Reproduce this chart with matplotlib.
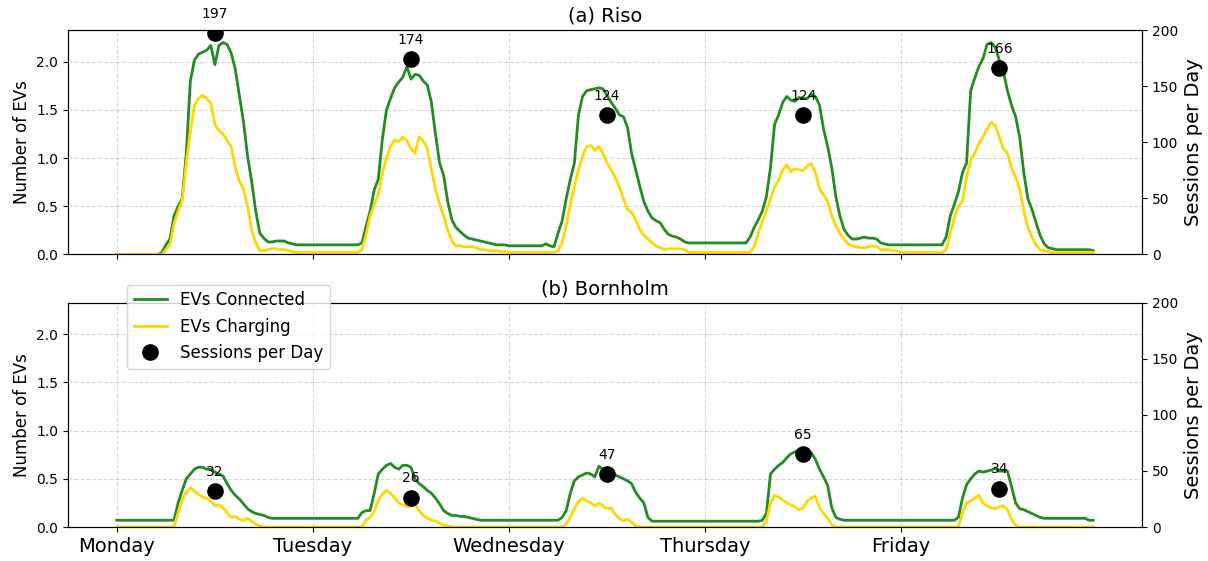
import matplotlib
matplotlib.use("Agg")
import matplotlib.pyplot as plt
import numpy as np
from matplotlib.lines import Line2D
from matplotlib.ticker import MultipleLocator

days = ["Monday", "Tuesday", "Wednesday", "Thursday", "Friday"]

# half-hourly values, one list per day (00:00 .. 23:30)
riso_connected = [
    [0.0] * 11 + [0.02, 0.10, 0.16, 0.40, 0.50, 0.58, 1.05, 1.80, 2.02, 2.08, 2.10, 2.12, 2.17, 1.97, 2.17,
                  2.20, 2.18, 2.09, 1.92, 1.65, 1.38, 1.02, 0.76, 0.45, 0.22, 0.17, 0.13, 0.13, 0.14, 0.14,
                  0.14, 0.12, 0.11, 0.10, 0.10, 0.10, 0.10],
    [0.10] * 12 + [0.12, 0.29, 0.45, 0.67, 0.78, 1.20, 1.50, 1.62, 1.73, 1.79, 1.84, 1.95, 1.82, 1.87, 1.86,
                   1.80, 1.76, 1.58, 1.25, 0.95, 0.82, 0.55, 0.36, 0.28, 0.24, 0.20, 0.17, 0.16, 0.15, 0.14,
                   0.13, 0.12, 0.11, 0.10, 0.10, 0.10],
    [0.09] * 9 + [0.11, 0.09, 0.08, 0.22, 0.35, 0.58, 0.78, 0.95, 1.45, 1.64, 1.70, 1.71, 1.72, 1.73, 1.72,
                  1.65, 1.58, 1.52, 1.45, 1.43, 1.32, 1.05, 0.88, 0.71, 0.55, 0.45, 0.38, 0.35, 0.33, 0.26,
                  0.21, 0.19, 0.18, 0.16, 0.13, 0.12, 0.12, 0.12, 0.12],
    [0.12] * 11 + [0.18, 0.28, 0.36, 0.45, 0.60, 0.90, 1.35, 1.45, 1.58, 1.64, 1.60, 1.59, 1.63, 1.62, 1.62,
                   1.66, 1.64, 1.55, 1.30, 1.12, 0.90, 0.60, 0.40, 0.26, 0.20, 0.16, 0.16, 0.17, 0.18, 0.17,
                   0.17, 0.16, 0.12, 0.11, 0.10, 0.10, 0.10],
    [0.10] * 11 + [0.18, 0.40, 0.52, 0.65, 0.85, 0.95, 1.70, 1.83, 1.95, 2.03, 2.18, 2.20, 2.15, 2.02, 1.90,
                   1.70, 1.55, 1.43, 1.22, 0.85, 0.58, 0.47, 0.33, 0.20, 0.11, 0.07, 0.06, 0.05, 0.05, 0.05,
                   0.05, 0.05, 0.05, 0.05, 0.05, 0.05, 0.04],
]
riso_charging = [
    [0.0] * 12 + [0.05, 0.10, 0.32, 0.45, 0.56, 0.95, 1.28, 1.55, 1.62, 1.65, 1.62, 1.57, 1.35, 1.29, 1.25,
                  1.18, 1.12, 0.90, 0.76, 0.68, 0.50, 0.25, 0.12, 0.04, 0.04, 0.05, 0.06, 0.06, 0.05, 0.05,
                  0.04, 0.03, 0.02, 0.02, 0.02, 0.02],
    [0.02] * 12 + [0.05, 0.20, 0.40, 0.52, 0.62, 0.85, 1.00, 1.12, 1.19, 1.17, 1.22, 1.18, 1.10, 1.05, 1.22,
                   1.18, 1.10, 0.88, 0.68, 0.52, 0.40, 0.25, 0.14, 0.09, 0.09, 0.08, 0.08, 0.08, 0.07, 0.05,
                   0.05, 0.04, 0.04, 0.04, 0.03, 0.03],
    [0.02] * 12 + [0.04, 0.12, 0.30, 0.52, 0.71, 0.88, 1.02, 1.12, 1.13, 1.08, 1.12, 1.05, 0.95, 0.88, 0.80,
                   0.70, 0.58, 0.47, 0.44, 0.36, 0.26, 0.20, 0.16, 0.12, 0.09, 0.07, 0.05, 0.06, 0.06, 0.06,
                   0.06, 0.05, 0.02, 0.02, 0.02, 0.02],
    [0.02] * 12 + [0.08, 0.22, 0.34, 0.45, 0.58, 0.70, 0.77, 0.88, 0.93, 0.86, 0.89, 0.88, 0.87, 0.92, 0.94,
                   0.85, 0.68, 0.62, 0.55, 0.40, 0.30, 0.22, 0.16, 0.11, 0.09, 0.08, 0.07, 0.07, 0.08, 0.09,
                   0.08, 0.05, 0.05, 0.05, 0.04, 0.04],
    [0.02] * 11 + [0.05, 0.22, 0.38, 0.50, 0.55, 0.80, 0.98, 1.05, 1.15, 1.22, 1.30, 1.37, 1.34, 1.22, 1.10,
                   1.05, 0.90, 0.80, 0.68, 0.45, 0.28, 0.18, 0.10, 0.05, 0.04, 0.03, 0.02, 0.02, 0.02, 0.02,
                   0.02, 0.02, 0.02, 0.02, 0.02, 0.02, 0.02],
]
born_connected = [
    [0.07] * 15 + [0.25, 0.38, 0.50, 0.55, 0.60, 0.62, 0.62, 0.60, 0.60, 0.57, 0.55, 0.53, 0.45, 0.38, 0.33,
                   0.29, 0.24, 0.19, 0.16, 0.14, 0.13, 0.12, 0.10, 0.09, 0.09, 0.09, 0.09, 0.09, 0.09, 0.09,
                   0.09, 0.09, 0.09],
    [0.09] * 12 + [0.15, 0.17, 0.17, 0.35, 0.55, 0.60, 0.64, 0.66, 0.62, 0.60, 0.64, 0.64, 0.62, 0.50, 0.45,
                   0.42, 0.38, 0.35, 0.30, 0.24, 0.17, 0.14, 0.12, 0.12, 0.11, 0.11, 0.10, 0.09, 0.08, 0.07]
    + [0.07] * 6,
    [0.07] * 13 + [0.10, 0.17, 0.35, 0.48, 0.52, 0.54, 0.56, 0.55, 0.52, 0.63, 0.60, 0.58, 0.56, 0.54, 0.52,
                   0.50, 0.48, 0.45, 0.36, 0.30, 0.25, 0.10, 0.06] + [0.06] * 12,
    [0.06] * 14 + [0.07, 0.14, 0.55, 0.60, 0.64, 0.67, 0.72, 0.76, 0.78, 0.80, 0.79, 0.76, 0.77, 0.70, 0.60,
                   0.52, 0.43, 0.20, 0.10, 0.08] + [0.07] * 14,
    [0.07] * 14 + [0.10, 0.30, 0.44, 0.50, 0.55, 0.58, 0.57, 0.58, 0.59, 0.61, 0.58, 0.58, 0.58, 0.42, 0.25,
                   0.19, 0.18, 0.16, 0.14, 0.12, 0.10, 0.09] + [0.09] * 10 + [0.07, 0.07],
]
born_charging = [
    [0.0] * 15 + [0.15, 0.28, 0.36, 0.41, 0.37, 0.34, 0.31, 0.30, 0.27, 0.22, 0.23, 0.20, 0.15, 0.10, 0.11,
                  0.08, 0.07, 0.09, 0.06, 0.03, 0.01] + [0.0] * 12,
    [0.0] * 13 + [0.07, 0.10, 0.16, 0.28, 0.34, 0.38, 0.35, 0.30, 0.25, 0.23, 0.21, 0.22, 0.23, 0.17, 0.12,
                  0.09, 0.07, 0.06, 0.04, 0.02, 0.01] + [0.0] * 14,
    [0.0] * 14 + [0.03, 0.10, 0.19, 0.26, 0.30, 0.27, 0.25, 0.22, 0.25, 0.22, 0.19, 0.20, 0.13, 0.09, 0.06,
                  0.08, 0.05, 0.01] + [0.0] * 16,
    [0.0] * 15 + [0.06, 0.25, 0.33, 0.31, 0.28, 0.25, 0.23, 0.21, 0.18, 0.20, 0.27, 0.30, 0.32, 0.20, 0.14,
                  0.09, 0.02] + [0.0] * 16,
    [0.0] * 15 + [0.15, 0.25, 0.27, 0.30, 0.33, 0.25, 0.22, 0.20, 0.19, 0.21, 0.22, 0.18, 0.08, 0.02]
    + [0.0] * 19,
]

riso_sessions = [197, 174, 124, 124, 166]
born_sessions = [32, 26, 47, 65, 34]

hours = np.arange(0, 24 * len(days), 0.5)
session_hours = np.arange(len(days)) * 24 + 12

fig, (ax_a, ax_b) = plt.subplots(2, 1, figsize=(12.08, 5.61), dpi=100, sharex=True)
fig.subplots_adjust(left=0.0563, right=0.9454, top=0.9465, bottom=0.0606, hspace=0.214)

panels = [
    (ax_a, "(a) Riso", riso_connected, riso_charging, riso_sessions),
    (ax_b, "(b) Bornholm", born_connected, born_charging, born_sessions),
]

for ax, title, conn, charg, sess in panels:
    ax.plot(hours, np.concatenate(conn), color="forestgreen", lw=2)
    ax.plot(hours, np.concatenate(charg), color="gold", lw=2)
    ax.set_ylim(0, 2.33)
    ax.set_ylabel("Number of EVs", fontsize=12)
    ax.set_title(title, fontsize=14)
    ax.grid(True, linestyle="--", alpha=0.5)
    ax.tick_params(axis="y", labelsize=10)

    ax2 = ax.twinx()
    ax2.scatter(session_hours, sess, color="black", s=120, zorder=5)
    for xh, v in zip(session_hours, sess):
        ax2.annotate(str(v), (xh, v), xytext=(0, 9), textcoords="offset points",
                     ha="center", va="bottom", fontsize=10)
    ax2.set_ylim(0, 200)
    ax2.yaxis.set_major_locator(MultipleLocator(50))
    ax2.set_ylabel("Sessions per Day", fontsize=14)
    ax2.tick_params(axis="y", labelsize=10)
    if ax is ax_b:
        handles = [
            Line2D([], [], color="forestgreen", lw=2),
            Line2D([], [], color="gold", lw=2),
            Line2D([], [], color="black", marker="o", ls="none", markersize=11),
        ]
        ax2.legend(handles, ["EVs Connected", "EVs Charging", "Sessions per Day"],
                   loc="upper left", bbox_to_anchor=(0.055, 1.08), borderaxespad=0, fontsize=12)

ax_b.set_xticks(np.arange(len(days)) * 24)
ax_b.set_xticklabels(days, fontsize=14)

fig.savefig("out.png", dpi=100)
